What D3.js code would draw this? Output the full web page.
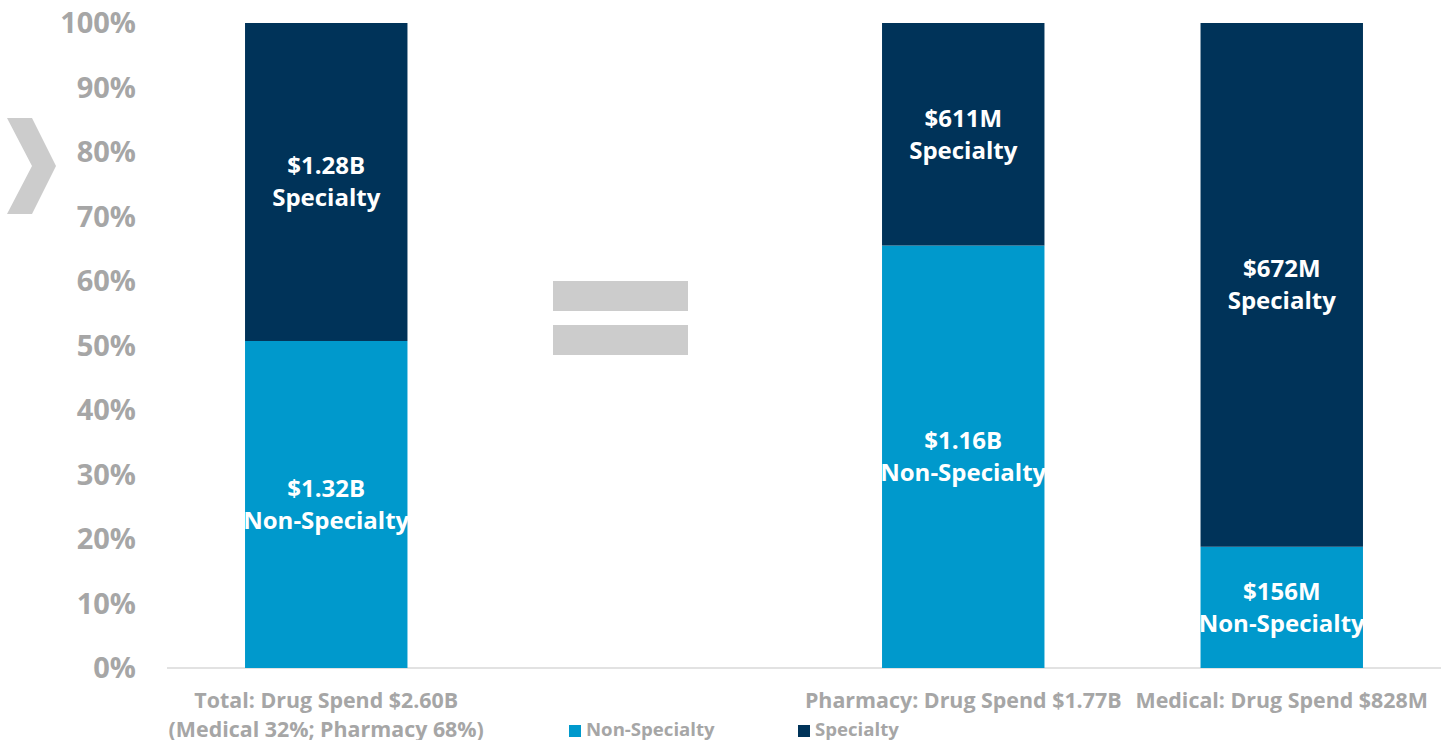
<!DOCTYPE html>
<html>
<head>
<meta charset="utf-8">
<script src="https://cdn.jsdelivr.net/npm/d3@7"></script>
<style>
  body { margin: 0; background: #fff; }
  text { font-family: "Open Sans", sans-serif; font-weight: 700; }
</style>
</head>
<body>
<script>
const width = 1441;
const height = 740;

// data
const categories = ["Total", "gap", "Pharmacy", "Medical"];
const nonSpecialtyPct = [50.7, null, 65.5, 18.8];
const specialtyPct = [49.3, null, 34.5, 81.2];
const nonSpecialtyLabel = ["$1.32B", null, "$1.16B", "$156M"];
const specialtyLabel = ["$1.28B", null, "$611M", "$672M"];
const categoryLabels = [
  ["Total: Drug Spend $2.60B", "(Medical 32%; Pharmacy 68%)"],
  [],
  ["Pharmacy: Drug Spend $1.77B"],
  ["Medical: Drug Spend $828M"]
];
const yTicks = [0, 10, 20, 30, 40, 50, 60, 70, 80, 90, 100];
const seriesNames = ["Non-Specialty", "Specialty"];
const colors = ["#0099cc", "#003359"];

const margin = {top: 23, right: 0, bottom: 72, left: 167};

const svg = d3.select("body").append("svg")
    .attr("width", width)
    .attr("height", height);

const x = d3.scaleBand()
    .domain(categories)
    .range([margin.left, width - margin.right])
    .paddingInner(0.49)
    .paddingOuter(0.245);

const y = d3.scaleLinear()
    .domain([0, 100])
    .range([height - margin.bottom, margin.top]);

// y axis tick labels
svg.append("g")
  .selectAll("text")
  .data(yTicks)
  .enter().append("text")
    .attr("x", 136)
    .attr("y", d => y(d))
    .attr("dy", "0.36em")
    .attr("text-anchor", "end")
    .attr("fill", "#a6a6a6")
    .attr("font-size", 29)
    .text(d => d + "%");

// baseline
svg.append("line")
    .attr("x1", margin.left).attr("x2", width)
    .attr("y1", y(0)).attr("y2", y(0))
    .attr("stroke", "#d9d9d9")
    .attr("stroke-width", 1.5);

// stacked bars
const rows = categories.map((c, i) => ({cat: c, non: nonSpecialtyPct[i], spec: specialtyPct[i],
  nonLab: nonSpecialtyLabel[i], specLab: specialtyLabel[i]})).filter(d => d.non != null);

const bars = svg.append("g").selectAll("g")
  .data(rows)
  .enter().append("g");

bars.append("rect")
    .attr("x", d => x(d.cat))
    .attr("width", x.bandwidth())
    .attr("y", d => y(d.non))
    .attr("height", d => y(0) - y(d.non))
    .attr("fill", colors[0]);

bars.append("rect")
    .attr("x", d => x(d.cat))
    .attr("width", x.bandwidth())
    .attr("y", d => y(d.non + d.spec))
    .attr("height", d => y(d.non) - y(d.non + d.spec))
    .attr("fill", colors[1]);

function segLabel(sel, mid, line1, line2) {
  const t = sel.append("text")
      .attr("x", d => x(d.cat) + x.bandwidth() / 2)
      .attr("y", mid)
      .attr("text-anchor", "middle")
      .attr("fill", "#fff")
      .attr("font-size", 24);
  t.append("tspan").attr("x", d => x(d.cat) + x.bandwidth() / 2).attr("dy", -7.5).text(line1);
  t.append("tspan").attr("x", d => x(d.cat) + x.bandwidth() / 2).attr("dy", 32).text(line2);
}
segLabel(bars, d => (y(0) + y(d.non)) / 2, d => d.nonLab, "Non-Specialty");
segLabel(bars, d => (y(d.non) + y(d.non + d.spec)) / 2, d => d.specLab, "Specialty");

// category labels
svg.append("g").selectAll("text")
  .data(categories)
  .enter().append("text")
    .attr("text-anchor", "middle")
    .attr("fill", "#a6a6a6")
    .attr("font-size", 21.4)
    .each(function (c, i) {
      const cx = x(c) + x.bandwidth() / 2;
      d3.select(this).selectAll("tspan")
        .data(categoryLabels[i])
        .enter().append("tspan")
          .attr("x", cx)
          .attr("y", (d, j) => 708 + j * 29)
          .text(d => d);
    });

// legend
const legendX = [569, 798];
const legend = svg.append("g").selectAll("g")
  .data(seriesNames)
  .enter().append("g")
    .attr("transform", (d, i) => `translate(${legendX[i]},722)`);
legend.append("rect").attr("width", 12).attr("height", 12).attr("y", 3)
    .attr("fill", (d, i) => colors[i]);
legend.append("text").attr("x", 17).attr("y", 14)
    .attr("fill", "#a6a6a6").attr("font-size", 18.6).text(d => d);

// equals sign between total and the split
svg.append("g").selectAll("rect")
  .data([281, 325])
  .enter().append("rect")
    .attr("x", 553).attr("y", d => d)
    .attr("width", 135).attr("height", 30)
    .attr("fill", "#cccccc");

// chevron at left
svg.append("polygon")
    .attr("points", "7,118 32,118 56,166 32,214 7,214 32,166")
    .attr("fill", "#cccccc");
</script>
</body>
</html>
